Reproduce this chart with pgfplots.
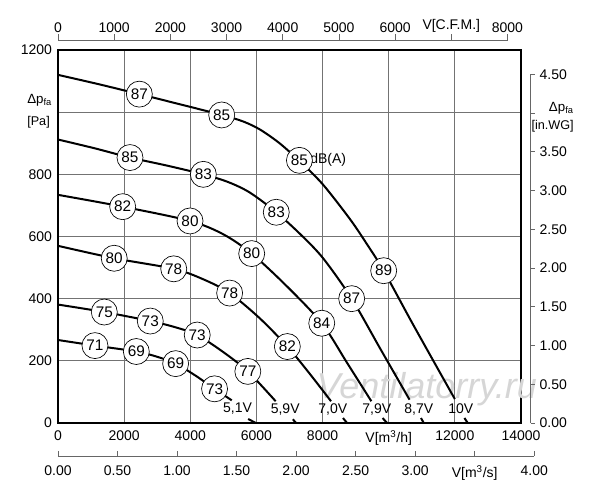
\documentclass[border=0pt]{standalone}
\usepackage{fontspec}
\setmainfont{Liberation Sans}
\usepackage{pgfplots}
\usepackage{pgfplotstable}
\pgfplotsset{compat=1.18}
\pgfplotsset{scaled ticks=false}
\newcommand{\fs}[1]{\fontsize{#1}{#1}\selectfont}

\pgfplotstableread{
x y lab
2460 1058 87
4950 991 85
7300 845 85
9848 490 89
2177 854 85
4395 800 83
6600 678 83
8880 400 87
1956 696 82
3992 650 80
5857 545 80
7975 321 84
1700 530 80
3500 496 78
5190 418 78
6935 246 82
1400 357 75
2790 328 73
4210 283 73
5740 166 77
1118 249 71
2368 230 69
3557 191 69
4734 110 73
}\circlelabels

\pgfplotstableread{
x y lab
5430 45 5,1V
6870 45 5,9V
8310 45 7,0V
9640 45 7,9V
10910 45 8,7V
12180 45 10V
}\voltlabels

\begin{document}
\begin{tikzpicture}
\path[use as bounding box, fill=white] (-43.5pt,-57.75pt) rectangle (406.5pt,317.25pt);

% ---------------- main axis ----------------
\begin{axis}[
  at={(0pt,0pt)}, anchor=south west,
  scale only axis, width=347.25pt, height=279.75pt,
  xmin=0, xmax=14000, ymin=0, ymax=1200,
  scaled x ticks=false, scaled y ticks=false,
  xtick={0,2000,4000,6000,8000,10000,12000,14000},
  xticklabels={0,2000,4000,6000,8000,{V[m\textsuperscript{3}/h]},12000,14000},
  ytick={0,200,400,600,800,1000,1200},
  yticklabels={0,200,400,600,800,{},1200},
  grid=major,
  major grid style={black!55, line width=0.6pt},
  axis line style={line width=1.7pt},
  major tick length=0pt,
  tick label style={font=\fs{10.5}},
  xticklabel style={yshift=-2pt},
  yticklabel style={xshift=-1pt},
  clip=false,
]
% watermark
\node[text=black!16, font=\fs{27}\itshape] at (axis cs:11150,110) {Ventilatorry.ru};

% 10 V
\addplot[black, line width=1.5pt, smooth] coordinates {
(0,1120) (1230,1090) (2460,1058) (3700,1025) (4950,991) (5600,970) (6110,944)
(6700,900) (7300,843) (8005,768) (8835,655) (9350,574) (9848,490) (10658,332)
(11350,200) (12000,77)};
\addplot[black, line width=1.5pt] coordinates {(12290,16) (12390,0)};
% 8.7 V
\addplot[black, line width=1.5pt, smooth] coordinates {
(0,912) (1100,884) (2177,854) (3300,828) (4395,800) (5150,775) (5806,741)
(6600,678) (7350,605) (8024,529) (8880,400) (9750,238) (10630,75)};
\addplot[black, line width=1.5pt] coordinates {(10975,16) (11060,0)};
% 7.9 V
\addplot[black, line width=1.5pt, smooth] coordinates {
(0,734) (1956,696) (3992,650) (5000,607) (5857,545) (6900,442) (7975,321)
(8750,192) (9475,70)};
\addplot[black, line width=1.5pt] coordinates {(9815,16) (9950,0)};
% 7.0 V
\addplot[black, line width=1.5pt, smooth] coordinates {
(0,570) (1700,530) (3500,496) (4400,462) (5190,418) (6100,337) (6935,246)
(7600,160) (8256,70)};
\addplot[black, line width=1.5pt] coordinates {(8618,16) (8740,0)};
% 5.9 V
\addplot[black, line width=1.5pt, smooth] coordinates {
(0,381) (1400,357) (2790,328) (3550,308) (4210,283) (5000,228) (5740,166)
(6582,70)};
\addplot[black, line width=1.5pt] coordinates {(7100,12) (7200,0)};
% 5.1 V
\addplot[black, line width=1.5pt, smooth] coordinates {
(0,267) (1118,249) (2368,230) (3000,213) (3557,191) (4150,153) (4734,110)
(5254,73)};
\addplot[black, line width=1.5pt] coordinates {(5750,13) (5980,0)};

% circled sound levels
\addplot[draw=none, mark=none, nodes near coords, point meta=explicit symbolic,
  nodes near coords align={center},
  every node near coord/.style={circle, draw=black, fill=white, line width=0.5pt,
    inner sep=0pt, minimum size=19.5pt, anchor=center, font=\fs{11.5}}]
  table[x=x, y=y, meta=lab] {\circlelabels};
% voltage labels
\addplot[draw=none, mark=none, nodes near coords, point meta=explicit symbolic,
  nodes near coords align={center},
  every node near coord/.style={anchor=center, inner sep=0pt, font=\fs{10.5}}]
  table[x=x, y=y, meta=lab] {\voltlabels};
\node[anchor=west, inner sep=0pt, font=\fs{10.5}] at (axis cs:7620,845) {dB(A)};
\end{axis}

% ---------------- top axis: CFM ----------------
\begin{axis}[
  at={(0pt,286.7pt)}, anchor=north west,
  scale only axis, width=337.1pt, height=10pt,
  xmin=0, xmax=8000, ymin=0, ymax=1,
  axis x line=top, axis y line=none,
  axis line style={-, black!60, line width=0.6pt},
  xtick={0,1000,2000,3000,4000,5000,6000,7000,8000},
  xticklabels={0,1000,2000,3000,4000,5000,6000,{V[C.F.M.]},8000},
  tick align=outside, major tick length=5pt,
  tick style={black!60, line width=0.6pt},
  tick label style={font=\fs{10.5}},
  xticklabel style={yshift=-2.5pt},
]
\end{axis}

% ---------------- right axis: in.WG ----------------
\begin{axis}[
  at={(354.5pt,0pt)}, anchor=south east,
  scale only axis, width=10pt, height=261.45pt,
  xmin=0, xmax=1, ymin=0, ymax=4.5,
  axis y line=right, axis x line=none,
  axis line style={-, black!60, line width=0.6pt},
  ytick={0,0.5,1,1.5,2,2.5,3,3.5,4,4.5},
  yticklabels={0.00,0.50,1.00,1.50,2.00,2.50,3.00,3.50,{},4.50},
  tick align=outside, major tick length=3.2pt,
  tick style={black!60, line width=0.6pt},
  tick label style={font=\fs{10.5}},
]
\end{axis}

% ---------------- bottom axis: m3/s ----------------
\begin{axis}[
  at={(0pt,-24.75pt)}, anchor=south west,
  scale only axis, width=357.15pt, height=10pt,
  xmin=0, xmax=4, ymin=0, ymax=1,
  axis x line=bottom, axis y line=none,
  axis line style={-, black!60, line width=0.6pt},
  xtick={0,0.5,1,1.5,2,2.5,3,3.5,4},
  xticklabels={0.00,0.50,1.00,1.50,2.00,2.50,3.00,{V[m\textsuperscript{3}/s]},4.00},
  tick align=inside, major tick length=4pt,
  tick style={black!60, line width=0.6pt},
  tick label style={font=\fs{10.5}},
  xticklabel style={yshift=-3.75pt},
]
\end{axis}

% axis titles
\node[anchor=west, inner sep=0pt, font=\fs{10}] at (-23.25pt,242.25pt) {Δp\textsubscript{fa}};
\node[anchor=west, inner sep=0pt, font=\fs{9.5}] at (-23.25pt,225.75pt) {[Pa]};
\node[anchor=east, inner sep=0pt, font=\fs{10}] at (387pt,236.25pt) {Δp\textsubscript{fa}};
\node[anchor=east, inner sep=0pt, font=\fs{9.5}] at (387pt,222.75pt) {[in.WG]};
\end{tikzpicture}
\end{document}
